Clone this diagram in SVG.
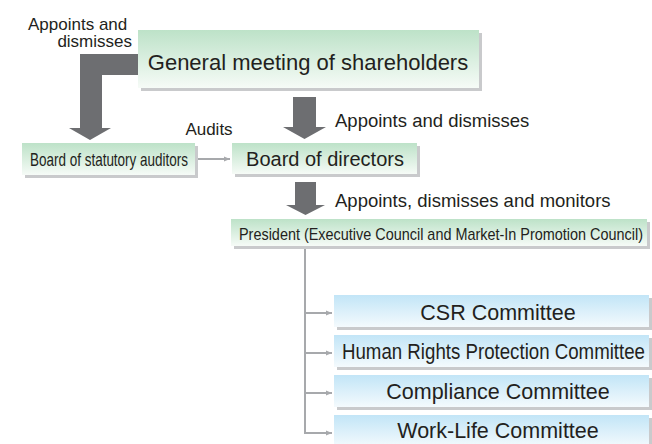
<svg xmlns="http://www.w3.org/2000/svg" width="652" height="444" viewBox="0 0 652 444">
  <defs>
    <linearGradient id="green" x1="0" y1="0" x2="0" y2="1">
      <stop offset="0" stop-color="#bde2c8"/>
      <stop offset="1" stop-color="#f6fbf7"/>
    </linearGradient>
    <linearGradient id="blue" x1="0" y1="0" x2="0" y2="1">
      <stop offset="0" stop-color="#c2e5f7"/>
      <stop offset="1" stop-color="#f4fafd"/>
    </linearGradient>
    <marker id="tip" viewBox="0 0 6 6" refX="6" refY="3" markerWidth="6" markerHeight="6" markerUnits="userSpaceOnUse" orient="auto">
      <path d="M0,0.5 L6,3 L0,5.5 Z" fill="#a7a9ac"/>
    </marker>
    <style>
      .lbl { font-family: "Liberation Sans", Arial, sans-serif; fill: #231f20; }
      .shadow { fill: #c9cacc; }
      .gbox { fill: url(#green); }
      .bbox { fill: url(#blue); }
      .fat { fill: #6d6e71; }
      .thin { stroke: #a7a9ac; stroke-width: 2; fill: none; }
    </style>
  </defs>

  <!-- wide grey arrows between the governing bodies, thin lines to the committees -->
  <g id="connectors">
    <path class="fat" d="M138,54 H80 V128 H69 L90,140 L111,128 H102 V75 H138 Z"/>
    <path class="fat" d="M293,97 H316 V127 H326 L304.5,139 L283,127 H293 Z"/>
    <path class="fat" d="M295,182 H316 V205 H325 L305.5,215 L286,205 H295 Z"/>
    <line class="thin" x1="196" y1="159" x2="230" y2="159" marker-end="url(#tip)"/>
    <path class="thin" d="M305,247 V433"/>
    <line class="thin" x1="305" y1="313" x2="332" y2="313" marker-end="url(#tip)"/>
    <line class="thin" x1="305" y1="353" x2="332" y2="353" marker-end="url(#tip)"/>
    <line class="thin" x1="305" y1="393" x2="332" y2="393" marker-end="url(#tip)"/>
    <path class="thin" d="M305,432 V433 H332" marker-end="url(#tip)"/>
  </g>

  <!-- arrow labels -->
  <g id="labels">
    <text class="lbl" x="132" font-size="17" text-anchor="end">
      <tspan x="132" y="29.5">Appoints and</tspan>
      <tspan x="132" y="47">dismisses</tspan>
    </text>
    <text class="lbl" x="209" y="135" font-size="17" text-anchor="middle">Audits</text>
    <text class="lbl" x="335" y="127" font-size="18.5">Appoints and dismisses</text>
    <text class="lbl" x="335" y="207" font-size="18.5">Appoints, dismisses and monitors</text>
  </g>

  <g id="shareholders">
    <rect class="shadow" x="141" y="33" width="341" height="58"/>
    <rect class="gbox" x="138" y="30" width="341" height="58"/>
    <text class="lbl" x="308" y="70" font-size="22" text-anchor="middle">General meeting of shareholders</text>
  </g>

  <g id="auditors">
    <rect class="shadow" x="25" y="146" width="173" height="32"/>
    <rect class="gbox" x="22" y="143" width="173" height="32"/>
    <text class="lbl" x="30" y="166" font-size="18.5" textLength="158" lengthAdjust="spacingAndGlyphs">Board of statutory auditors</text>
  </g>

  <g id="directors">
    <rect class="shadow" x="235" y="146" width="185" height="31"/>
    <rect class="gbox" x="232" y="143" width="185" height="31"/>
    <text class="lbl" x="325" y="166" font-size="20" text-anchor="middle">Board of directors</text>
  </g>

  <g id="president">
    <rect class="shadow" x="234" y="222" width="416" height="27"/>
    <rect class="gbox" x="231" y="219" width="416" height="27"/>
    <text class="lbl" x="239" y="240" font-size="17" textLength="404" lengthAdjust="spacingAndGlyphs">President (Executive Council and Market-In Promotion Council)</text>
  </g>

  <g id="csr">
    <rect class="shadow" x="337" y="298" width="315" height="32"/>
    <rect class="bbox" x="334" y="295" width="315" height="32"/>
    <text class="lbl" x="498" y="320" font-size="21.5" text-anchor="middle">CSR Committee</text>
  </g>

  <g id="human-rights">
    <rect class="shadow" x="337" y="338" width="315" height="32"/>
    <rect class="bbox" x="334" y="335" width="315" height="32"/>
    <text class="lbl" x="342" y="359" font-size="21.5" textLength="303" lengthAdjust="spacingAndGlyphs">Human Rights Protection Committee</text>
  </g>

  <g id="compliance">
    <rect class="shadow" x="337" y="378" width="315" height="32"/>
    <rect class="bbox" x="334" y="375" width="315" height="32"/>
    <text class="lbl" x="498" y="399" font-size="21.5" text-anchor="middle">Compliance Committee</text>
  </g>

  <g id="work-life">
    <rect class="shadow" x="337" y="418" width="315" height="32"/>
    <rect class="bbox" x="334" y="415" width="315" height="32"/>
    <text class="lbl" x="498" y="438" font-size="21.5" text-anchor="middle">Work-Life Committee</text>
  </g>
</svg>
